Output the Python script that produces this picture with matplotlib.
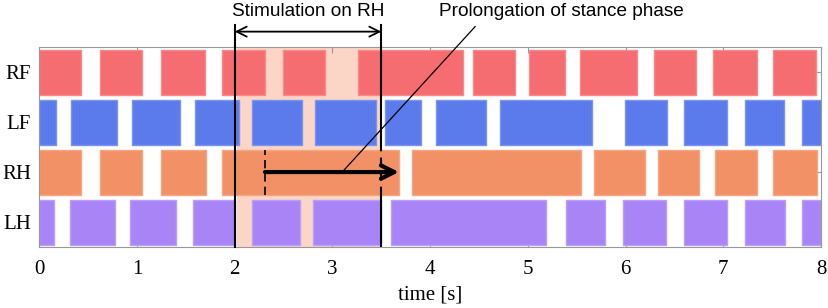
import matplotlib.pyplot as plt

# stance phases (start, end) in seconds for each leg
legs = ['RF', 'LF', 'RH', 'LH']
rf_start = [0.0, 0.62, 1.25, 1.87, 2.49, 3.26, 4.44, 5.01, 5.53, 6.29, 6.89, 7.51]
rf_end = [0.43, 1.05, 1.70, 2.31, 2.92, 4.34, 4.87, 5.38, 6.12, 6.72, 7.34, 7.95]
lf_start = [0.0, 0.32, 0.95, 1.59, 2.18, 2.82, 3.54, 4.06, 4.71, 5.99, 6.60, 7.22, 7.81]
lf_end = [0.17, 0.80, 1.44, 2.04, 2.69, 3.45, 3.91, 4.57, 5.66, 6.42, 7.04, 7.62, 8.0]
rh_start = [0.0, 0.62, 1.25, 1.87, 3.81, 5.68, 6.33, 6.91, 7.51]
rh_end = [0.43, 1.05, 1.71, 3.68, 5.54, 6.20, 6.75, 7.34, 7.96]
lh_start = [0.0, 0.31, 0.93, 1.57, 2.18, 2.80, 3.60, 5.39, 5.97, 6.60, 7.22, 7.81]
lh_end = [0.15, 0.77, 1.40, 2.00, 2.67, 3.50, 5.19, 5.79, 6.41, 7.04, 7.63, 8.0]

colors = ['#f56d70', '#5b7bec', '#f29166', '#a884f6']
edges = ['#f88a8c', '#7b95ef', '#f5a783', '#bb9ef8']

stim_on = 2.0
stim_off = 3.5
shade_on = 2.02
prolong_start = 2.31
prolong_end = 3.68

fig = plt.figure(figsize=(8.29, 3.08), dpi=100)
ax = fig.add_axes([0.0474, 0.198, 0.943, 0.649])

ax.axvspan(shade_on, stim_off, color='#fbd6c6', zorder=0, lw=0)

starts = [rf_start, lf_start, rh_start, lh_start]
ends = [rf_end, lf_end, rh_end, lh_end]
ypos = [4, 3, 2, 1]
for s, e, y, c, ec in zip(starts, ends, ypos, colors, edges):
    ax.broken_barh([(a, b - a) for a, b in zip(s, e)], (y - 0.45, 0.9),
                   facecolors=c, edgecolors=ec, linewidth=1, zorder=2)

ax.set_xlim(0, 8)
ax.set_ylim(0.5, 4.5)
ax.set_yticks(ypos)
ax.set_yticklabels(legs)
ax.set_xticks(range(9))

serif = 'Liberation Serif'
for lab in ax.get_xticklabels() + ax.get_yticklabels():
    lab.set_family(serif)
    lab.set_fontsize(15)
ax.set_xlabel('time [s]', family=serif, fontsize=15, labelpad=5)

ax.tick_params(direction='in', top=True, right=True, length=4, color='#999999')
ax.tick_params(axis='x', pad=9)
ax.tick_params(axis='y', pad=6)
for sp in ax.spines.values():
    sp.set_color('#999999')

# stimulation lines
ax.plot([stim_on, stim_on], [0.5, 4.94], color='k', lw=1.5, zorder=4, clip_on=False)
ax.plot([stim_off, stim_off], [2.45, 4.94], color='k', lw=1.5, zorder=4, clip_on=False)
ax.plot([stim_off, stim_off], [0.5, 1.55], color='k', lw=1.5, zorder=4)
ax.plot([stim_off, stim_off], [1.55, 2.45], color='k', lw=1.5, ls=(0, (4, 3)), zorder=4)
ax.plot([prolong_start, prolong_start], [1.55, 2.45], color='k', lw=1.2,
        ls=(0, (5, 3)), zorder=4)

ax.annotate('', xy=(stim_off, 4.81), xytext=(stim_on, 4.81),
            arrowprops=dict(arrowstyle='<->', color='k', lw=1.3,
                            mutation_scale=18, shrinkA=0, shrinkB=0),
            annotation_clip=False)
ax.text((stim_on + stim_off) / 2, 5.21, 'Stimulation on RH', family='Liberation Sans',
        fontsize=13.7, ha='center', va='center', clip_on=False)

ax.annotate('', xy=(prolong_end, 2.0), xytext=(prolong_start, 2.0),
            arrowprops=dict(arrowstyle='->', color='k', lw=3,
                            mutation_scale=24, shrinkA=0, shrinkB=0),
            zorder=5)
ax.plot([3.10, 4.46], [2.0, 4.91], color='k', lw=0.9, zorder=5, clip_on=False)
ax.text(5.34, 5.21, 'Prolongation of stance phase', family='Liberation Sans',
        fontsize=13.7, ha='center', va='center', clip_on=False)

fig.savefig('out.png', dpi=100)
